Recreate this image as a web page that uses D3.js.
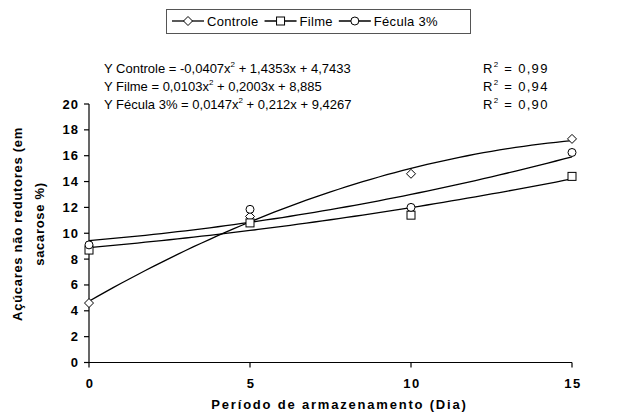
<!DOCTYPE html>
<html>
<head>
<meta charset="utf-8">
<script src="https://cdn.jsdelivr.net/npm/d3@7"></script>
<style>
  body { margin: 0; background: #fff; }
  text { font-family: "Liberation Sans", Arial, sans-serif; fill: #000; }
</style>
</head>
<body>
<div id="chart"></div>
<script>
// data
const days = [0, 5, 10, 15]
const seriesNames = ['Controle', 'Filme', 'Fécula 3%']
const controle = [4.6, 11.3, 14.6, 17.3]
const filme = [8.7, 10.8, 11.4, 14.4]
const fecula = [9.1, 11.85, 12.0, 16.25]
const seriesSymbols = ['diamond', 'square', 'circle']

const xTicks = [0, 5, 10, 15]
const yTicks = [0, 2, 4, 6, 8, 10, 12, 14, 16, 18, 20]

// equation labels: [before superscript, superscript, after]
const eqLabels = [
  ['Y Controle = -0,0407x', '2', ' + 1,4353x + 4,7433'],
  ['Y Filme  = 0,0103x', '2', ' + 0,2003x + 8,885'],
  ['Y Fécula 3% = 0,0147x', '2', ' + 0,212x + 9,4267'],
]
const r2Labels = ['0,99', '0,94', '0,90']

;(function () {
  const W = 617
  const H = 412
  const left = 89
  const right = 572
  const top = 104
  const bottom = 362.5

  const svg = d3
    .select('#chart')
    .append('svg')
    .attr('width', W)
    .attr('height', H)

  const x = d3.scaleLinear().domain([0, 15]).range([left, right])
  const y = d3.scaleLinear().domain([0, 20]).range([bottom, top])

  const series = [controle, filme, fecula].map((vals, i) => ({
    name: seriesNames[i],
    symbol: seriesSymbols[i],
    points: days.map((d, j) => ({ x: d, y: vals[j] })),
  }))

  // least squares quadratic fit (polynomial trendline)
  function quadFit(pts) {
    const n = pts.length
    let s1 = 0, s2 = 0, s3 = 0, s4 = 0, t0 = 0, t1 = 0, t2 = 0
    pts.forEach(p => {
      s1 += p.x; s2 += p.x ** 2; s3 += p.x ** 3; s4 += p.x ** 4
      t0 += p.y; t1 += p.x * p.y; t2 += p.x * p.x * p.y
    })
    const M = [
      [n, s1, s2, t0],
      [s1, s2, s3, t1],
      [s2, s3, s4, t2],
    ]
    for (let i = 0; i < 3; i++) {
      for (let k = i + 1; k < 3; k++) {
        const f = M[k][i] / M[i][i]
        for (let j = i; j < 4; j++) M[k][j] -= f * M[i][j]
      }
    }
    const c = [0, 0, 0]
    for (let i = 2; i >= 0; i--) {
      let s = M[i][3]
      for (let j = i + 1; j < 3; j++) s -= M[i][j] * c[j]
      c[i] = s / M[i][i]
    }
    return xv => c[0] + c[1] * xv + c[2] * xv * xv
  }

  const marker = (g, type, cx, cy) => {
    if (type === 'diamond') {
      const r = 4.5
      g.append('path')
        .attr('d', `M${cx},${cy - r}L${cx + r},${cy}L${cx},${cy + r}L${cx - r},${cy}Z`)
    } else if (type === 'square') {
      const r = 4
      g.append('rect')
        .attr('x', cx - r).attr('y', cy - r).attr('width', 2 * r).attr('height', 2 * r)
    } else {
      g.append('circle').attr('cx', cx).attr('cy', cy).attr('r', 4)
    }
  }

  // axes
  const axisG = svg.append('g').attr('stroke', '#000').attr('stroke-width', 1.2)
  axisG.append('line').attr('x1', left).attr('x2', left).attr('y1', top).attr('y2', bottom)
  axisG.append('line').attr('x1', left).attr('x2', right).attr('y1', bottom).attr('y2', bottom)
  yTicks.forEach(t => {
    axisG.append('line').attr('x1', left - 5).attr('x2', left).attr('y1', y(t)).attr('y2', y(t))
  })
  xTicks.forEach(t => {
    axisG.append('line').attr('x1', x(t)).attr('x2', x(t)).attr('y1', bottom).attr('y2', bottom + 5)
  })

  svg.append('g')
    .attr('font-size', 13)
    .attr('font-weight', 'bold')
    .attr('letter-spacing', 1)
    .attr('text-anchor', 'end')
    .selectAll('text')
    .data(yTicks)
    .join('text')
    .attr('x', left - 10)
    .attr('y', d => y(d) + 4.5)
    .text(d => d)

  svg.append('g')
    .attr('font-size', 13)
    .attr('font-weight', 'bold')
    .attr('letter-spacing', 1.5)
    .attr('text-anchor', 'middle')
    .selectAll('text')
    .data(xTicks)
    .join('text')
    .attr('x', d => x(d) + 1)
    .attr('y', bottom + 25)
    .text(d => d)

  svg.append('text')
    .attr('x', (left + right) / 2 + 9)
    .attr('y', 409)
    .attr('text-anchor', 'middle')
    .attr('font-size', 13)
    .attr('font-weight', 'bold')
    .attr('letter-spacing', 1.8)
    .text('Período de armazenamento (Dia)')

  const yTitle = svg.append('text')
    .attr('transform', 'translate(0,224) rotate(-90)')
    .attr('text-anchor', 'middle')
    .attr('font-size', 13)
    .attr('font-weight', 'bold')
    .attr('letter-spacing', 0.7)
  yTitle.append('tspan').attr('x', 0).attr('y', 22).text('Açúcares não redutores (em')
  yTitle.append('tspan').attr('x', 0).attr('y', 44).text('sacarose %)')

  // trend curves
  const line = d3.line().x(d => x(d[0])).y(d => y(d[1]))
  const fine = d3.range(0, 15.001, 0.25)
  svg.append('g')
    .attr('fill', 'none')
    .attr('stroke', '#000')
    .attr('stroke-width', 1.3)
    .selectAll('path')
    .data(series)
    .join('path')
    .attr('d', s => {
      const f = quadFit(s.points)
      return line(fine.map(v => [v, f(v)]))
    })

  // markers
  const markG = svg.append('g').attr('fill', '#fff').attr('stroke', '#000').attr('stroke-width', 1)
  series.forEach(s => {
    s.points.forEach(p => marker(markG, s.symbol, x(p.x), y(p.y)))
  })

  // equations
  const eqG = svg.append('g').attr('font-size', 13)
  eqLabels.forEach((parts, i) => {
    const yy = 73 + i * 18
    const t = eqG.append('text').attr('x', 104).attr('y', yy)
    t.append('tspan').text(parts[0])
    t.append('tspan').attr('font-size', 8).attr('dy', -6).text(parts[1])
    t.append('tspan').attr('dy', 6).text(parts[2])
    const r = eqG.append('text').attr('x', 483).attr('y', yy).attr('letter-spacing', 1.3)
    r.append('tspan').text('R')
    r.append('tspan').attr('font-size', 8).attr('dy', -6).text('2')
    r.append('tspan').attr('dy', 6).text(' = ' + r2Labels[i])
  })

  // legend
  const legG = svg.append('g')
  legG.append('rect')
    .attr('x', 166.5).attr('y', 9.5).attr('width', 304).attr('height', 24)
    .attr('fill', '#fff').attr('stroke', '#555')
  let lx = 172
  const ly = 21
  series.forEach(s => {
    legG.append('line')
      .attr('x1', lx).attr('x2', lx + 32).attr('y1', ly).attr('y2', ly)
      .attr('stroke', '#000').attr('stroke-width', 1.3)
    const mg = legG.append('g').attr('fill', '#fff').attr('stroke', '#000')
    marker(mg, s.symbol, lx + 16, ly)
    const t = legG.append('text')
      .attr('x', lx + 35).attr('y', ly + 5)
      .attr('font-size', 13)
      .attr('letter-spacing', 0.3)
      .text(s.name)
    lx += 35 + t.node().getComputedTextLength() + 6
  })
})()
</script>
</body>
</html>
